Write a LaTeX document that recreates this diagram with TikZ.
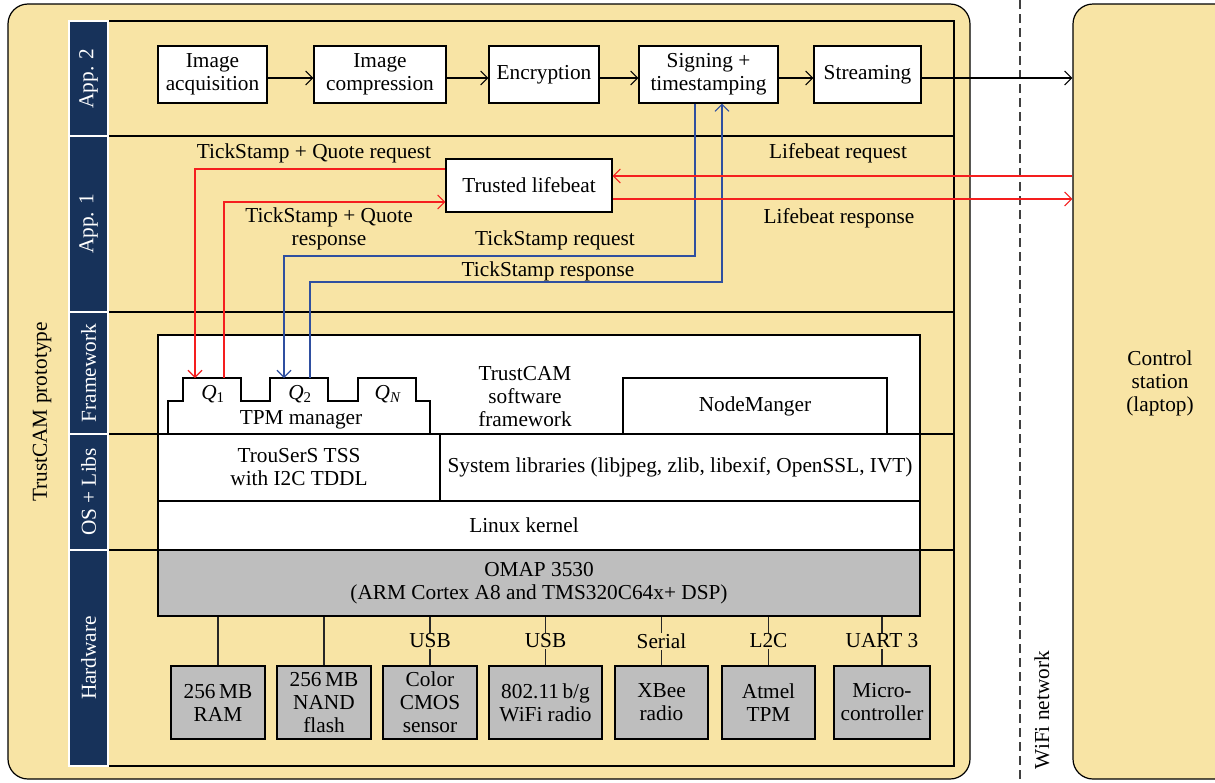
\documentclass[tikz,border=0pt]{standalone}
\usepackage{fontspec}
\setmainfont{Liberation Serif}
\usetikzlibrary{arrows.meta}
\definecolor{cyel}{HTML}{F8E4A5}
\definecolor{cblue}{HTML}{17325A}
\definecolor{cgrey}{HTML}{BEBEBE}
\definecolor{cred}{HTML}{F51E1E}
\definecolor{cblu}{HTML}{2F4FA0}
\newcommand{\mydiagfont}{\fontsize{21.3}{23}\selectfont}
\begin{document}
\begin{tikzpicture}[x=1pt,y=-1pt,
  box/.style={draw=black, fill=white, line width=1.1pt, inner sep=2pt, align=center, font=\mydiagfont},
  hwbox/.style={box, fill=cgrey},
  lbl/.style={font=\mydiagfont, align=center, inner sep=1pt},
  sidelbl/.style={font=\mydiagfont, text=white, rotate=90},
  arr/.style={-{Straight Barb[length=7pt,width=14pt]}, line width=1.1pt},
  frame/.style={line width=1.2pt, draw=black},
  link/.style={line width=1.1pt, draw=black!85}
]
\useasboundingbox (0,0) rectangle (1215,782);
\fill[white] (0,0) rectangle (1215,782);
\begin{scope}
\clip (0,0) rectangle (1215,782);
% outer boxes
\draw[frame, fill=cyel, rounded corners=20pt] (8,4) rectangle (970,779);
\node[draw=black, line width=1.2pt, fill=cyel, rounded corners=20pt, minimum width=227, minimum height=775] (cs) at (1186.5,391.5) {};
% dashed wifi line
\draw[dashed, line width=1.2pt, dash pattern=on 9pt off 5pt, black!75] (1020,0) -- (1020,782);
\end{scope}
\node[lbl] (cstext) at (1160,383) {Control\\station\\(laptop)};
\node[lbl, rotate=90] (wifi) at (1042,710) {WiFi network};
\node[lbl, rotate=90] (proto) at (42,412) {TrustCAM prototype};
% inner frame
\draw[frame] (108,21) -- (954,21) -- (954,766) -- (108,766);
\foreach \yy in {136,312,434,550} \draw[frame] (108,\yy) -- (954,\yy);
% side column
\foreach \a/\b in {21/136,136/312,312/434,434/550,550/766}
  \draw[fill=cblue, draw=white, line width=1.5pt] (69,\a) rectangle (108,\b);
\node[sidelbl] (s1) at (88.5,78.5) {App. 2};
\node[sidelbl] (s2) at (88.5,224) {App. 1};
\node[sidelbl] (s3) at (88.5,373) {Framework};
\node[sidelbl] (s4) at (88.5,492) {OS + Libs};
\node[sidelbl] (s5) at (88.5,658) {Hardware};
% App 2 pipeline
\node[box, minimum width=109, minimum height=57] (acq) at (212.5,74.5) {Image\\acquisition};
\node[box, minimum width=132, minimum height=57] (comp) at (380,74.5) {Image\\compression};
\node[box, minimum width=110, minimum height=57] (enc) at (544,74.5) {Encryption};
\node[box, minimum width=139, minimum height=57] (sign) at (708.5,74.5) {Signing +\\timestamping};
\node[box, minimum width=107, minimum height=57] (stream) at (867.5,74.5) {Streaming};
\draw[arr] (acq.east |- 0,78) -- (comp.west |- 0,78);
\draw[arr] (comp.east |- 0,78) -- (enc.west |- 0,78);
\draw[arr] (enc.east |- 0,78) -- (sign.west |- 0,78);
\draw[arr] (sign.east |- 0,78) -- (stream.west |- 0,78);
\draw[arr] (stream.east |- 0,78) -- (cs.west |- 0,78);
% Framework
\node[box, minimum width=762, minimum height=99] (fw) at (539,384.5) {};
\node[lbl] (fwtext) at (525,397) {TrustCAM\\software\\framework};
\node[box, minimum width=264, minimum height=56] (nm) at (755,406) {NodeManger};
\draw[line width=1.1pt, fill=white] (168,434) -- (168,401) -- (183,401) -- (183,378) -- (241,378) -- (241,401) -- (270,401) -- (270,378) -- (328,378) -- (328,401) -- (358,401) -- (358,378) -- (416,378) -- (416,401) -- (430,401) -- (430,434);
\coordinate (q1t) at (212,378);
\coordinate (q2t) at (299,378);
\node[lbl] (q1) at (213,394) {\textit{Q}\textsubscript{1}};
\node[lbl] (q2) at (300,394) {\textit{Q}\textsubscript{2}};
\node[lbl] (qn) at (388,394) {\textit{Q}\textsubscript{\textit{N}}};
\node[lbl] (tpm) at (301,420) {TPM manager};
% OS + Libs
\node[box, minimum width=282, minimum height=67] (tss) at (299,467.5) {TrouSerS TSS\\with I2C TDDL};
\node[box, minimum width=480, minimum height=67] (libs) at (680,467.5) {System libraries (libjpeg, zlib, libexif, OpenSSL, IVT)};
\node[box, minimum width=762, minimum height=49] (kern) at (539,525.5) {};
\node[lbl] (kerntext) at (524,525) {Linux kernel};
% Hardware
\node[hwbox, minimum width=762, minimum height=66] (omap) at (539,583) {OMAP 3530\\(ARM Cortex A8 and TMS320C64x+ DSP)};
\node[hwbox, minimum width=94, minimum height=73] (ram) at (218,702.5) {256\,MB\\RAM};
\node[hwbox, minimum width=94, minimum height=73] (nand) at (324,702.5) {256\,MB\\NAND\\flash};
\node[hwbox, minimum width=94, minimum height=73] (cmos) at (430,702.5) {Color\\CMOS\\sensor};
\node[hwbox, minimum width=113, minimum height=73] (wlan) at (545.5,702.5) {802.11\,b/g\\WiFi radio};
\node[hwbox, minimum width=93, minimum height=73] (xbee) at (661.5,702.5) {XBee\\radio};
\node[hwbox, minimum width=93, minimum height=73] (atmel) at (768.5,702.5) {Atmel\\TPM};
\node[hwbox, minimum width=96, minimum height=73] (micro) at (882,702.5) {Micro-\\controller};
\draw[link] (ram.north) -- (ram.north |- omap.south);
\draw[link] (nand.north) -- (nand.north |- omap.south);
\draw[link] (cmos.north) -- node[lbl, fill=cyel] (l1) {USB} (cmos.north |- omap.south);
\draw[link] (wlan.north) -- node[lbl, fill=cyel] (l2) {USB} (wlan.north |- omap.south);
\draw[link] (xbee.north) -- node[lbl, fill=cyel] (l3) {Serial} (xbee.north |- omap.south);
\draw[link] (atmel.north) -- node[lbl, fill=cyel] (l4) {L2C} (atmel.north |- omap.south);
\draw[link] (micro.north) -- node[lbl, fill=cyel] (l5) {UART 3} (micro.north |- omap.south);
% App 1
\node[box, minimum width=166, minimum height=53] (tl) at (529,185.5) {Trusted lifebeat};
\draw[arr, cred] (tl.west |- 0,169) -| (195,0 |- q1t);
\draw[arr, cred] (224,0 |- q1t) |- (tl.west |- 0,202);
\draw[arr, cblu] (695,0 |- sign.south) |- (284,256) -- (284,0 |- q2t);
\draw[arr, cblu] (310,0 |- q2t) |- (722,282) -- (722,0 |- sign.south);
\draw[arr, cred] (cs.west |- 0,176) -- (tl.east |- 0,176);
\draw[arr, cred] (tl.east |- 0,199) -- (cs.west |- 0,199);
\node[lbl] (t1) at (314,153) {TickStamp + Quote request};
\node[lbl] (t2) at (329,229) {TickStamp + Quote\\response};
\node[lbl] (t3) at (555,240) {TickStamp request};
\node[lbl] (t4) at (548,271) {TickStamp response};
\node[lbl] (t5) at (838,153) {Lifebeat request};
\node[lbl] (t6) at (839,218) {Lifebeat response};
\end{tikzpicture}
\end{document}
